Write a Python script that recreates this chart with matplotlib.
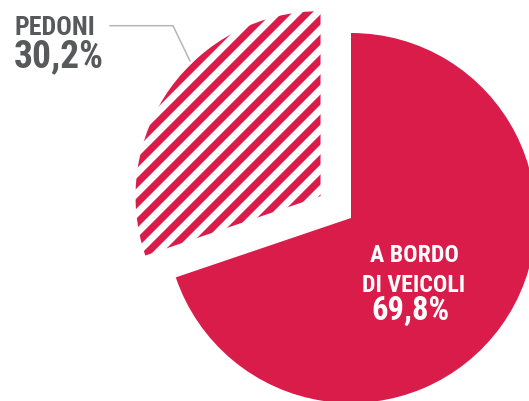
import matplotlib
matplotlib.use("Agg")
import matplotlib.pyplot as plt

# =========================
# data
# =========================
labels = ["A BORDO\nDI VEICOLI", "PEDONI"]
values = [69.8, 30.2]
pct_labels = ["69,8%", "30,2%"]

RED = "#D91C4A"
GREY = "#58595B"
DPI = 120

plt.rcParams["hatch.linewidth"] = 4.3
plt.rcParams["font.family"] = ["Roboto Condensed", "DejaVu Sans Condensed",
                               "Liberation Sans Narrow", "Roboto", "DejaVu Sans"]

fig = plt.figure(figsize=(529 / DPI, 401 / DPI), dpi=DPI)
ax = fig.add_axes([0, 0, 1, 1])

# pixel-like coordinates, y up
wedges, _ = ax.pie(
    values,
    center=(351, 183),
    radius=185,
    startangle=90,
    counterclock=False,
    explode=[0, 37.5],
    colors=[RED, "white"],
    wedgeprops={"linewidth": 0},
    frame=True,
)
ax.set_xlim(0, 529)
ax.set_ylim(0, 401)
ax.set_aspect("equal")
ax.axis("off")

# striped small slice
wedges[1].set_hatch("//")
wedges[1].set_edgecolor(RED)
wedges[1].set_linewidth(0)

# =========================
# labels
# =========================
ax.text(15, 366, labels[1], color=GREY, fontsize=15.5, fontweight="bold",
        ha="left", va="baseline")
ax.text(14, 334, pct_labels[1], color=GREY, fontsize=22.5, fontweight="bold",
        ha="left", va="baseline")

ax.plot([110, 173, 190], [375.3, 375.3, 340], color="#B5B5B5", lw=0.9)

for i, line in enumerate(labels[0].split("\n")):
    ax.text(414, 139 - 30 * i, line, color="white", fontsize=14.3, fontweight="bold",
            ha="center", va="baseline")
ax.text(410, 81, pct_labels[0], color="white", fontsize=19.5, fontweight="bold",
        ha="center", va="baseline")

fig.savefig("out.png", dpi=DPI)
